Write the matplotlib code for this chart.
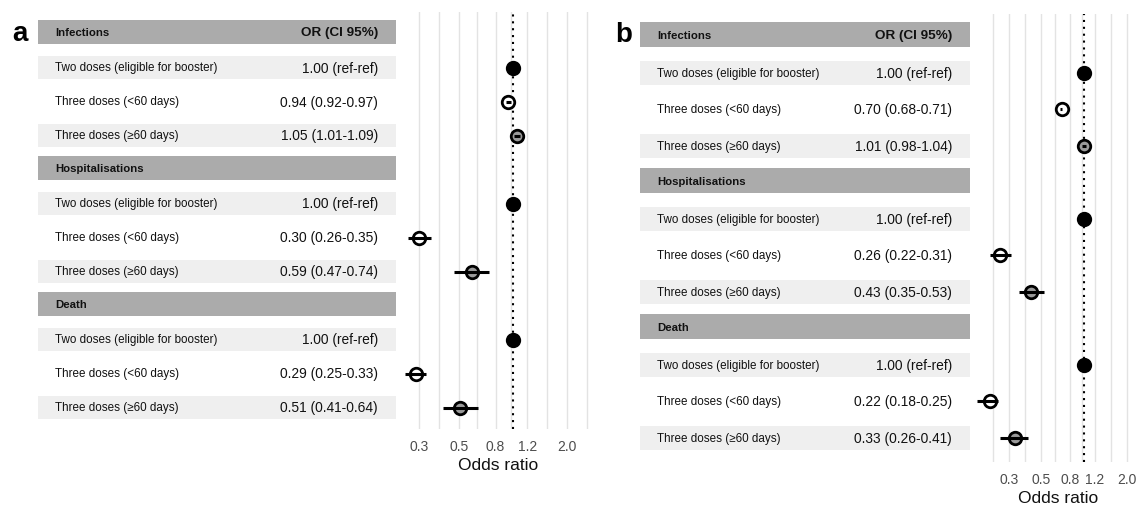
import numpy as np
import matplotlib
matplotlib.use("Agg")
import matplotlib.pyplot as plt

plt.rcParams['font.family'] = ['Liberation Sans', 'DejaVu Sans']

# ---------------- data ----------------
groups = ["Infections", "Hospitalisations", "Death"]
row_labels = ["Two doses (eligible for booster)", "Three doses (<60 days)", "Three doses (\u226560 days)"]

a_or = [1.00, 0.94, 1.05, 1.00, 0.30, 0.59, 1.00, 0.29, 0.51]
a_lo = [1.00, 0.92, 1.01, 1.00, 0.26, 0.47, 1.00, 0.25, 0.41]
a_hi = [1.00, 0.97, 1.09, 1.00, 0.35, 0.74, 1.00, 0.33, 0.64]

b_or = [1.00, 0.70, 1.01, 1.00, 0.26, 0.43, 1.00, 0.22, 0.33]
b_lo = [1.00, 0.68, 0.98, 1.00, 0.22, 0.35, 1.00, 0.18, 0.26]
b_hi = [1.00, 0.71, 1.04, 1.00, 0.31, 0.53, 1.00, 0.25, 0.41]

x_ticks = [0.3, 0.5, 0.8, 1.2, 2.0]
x_tick_labels = ["0.3", "0.5", "0.8", "1.2", "2.0"]
header_right = "OR (CI 95%)"
x_label = "Odds ratio"

# ---------------- styles ----------------
W, H = 1141, 506
fig = plt.figure(figsize=(W / 100, H / 100), dpi=100)

HEADER_C = "#ababab"
LIGHT_C = "#efefef"
GRID_C = "#e3e3e3"
fills = ["black", "white", "#9a9a9a"]


def ax_at(x0, x1, y0, y1):
    return fig.add_axes([x0 / W, 1 - y1 / H, (x1 - x0) / W, (y1 - y0) / H])


def panel(letter, ors, los, his, tab_x, plot_x, y_top, y_bot, row0, row_h,
          x03, px_per_ln, letter_xy):
    ylim = ((y_bot - row0) / row_h, (y_top - row0) / row_h)

    # ---- table ----
    tab = ax_at(tab_x[0], tab_x[1], y_top, y_bot)
    tab.set_xlim(0, tab_x[1] - tab_x[0])
    tab.set_ylim(*ylim)
    tab.axis("off")
    width = tab_x[1] - tab_x[0]
    label_x = 17
    right_x = width - 18
    r = 0
    k = 0
    for g in groups:
        hc = r - 0.05
        tab.add_patch(plt.Rectangle((0, hc - 0.35), width, 0.7, color=HEADER_C, lw=0))
        tab.text(label_x, hc, g, fontsize=8.2, fontweight="bold", va="center", ha="left", color="#111111")
        if g == groups[0]:
            tab.text(right_x, hc, header_right, fontsize=9.7, fontweight="bold", va="center",
                     ha="right", color="#111111")
        r += 1
        for j, lab in enumerate(row_labels):
            if j != 1:
                tab.add_patch(plt.Rectangle((0, r - 0.33), width, 0.66, color=LIGHT_C, lw=0))
            tab.text(label_x, r, lab, fontsize=8.4, va="center", ha="left", color="#111111")
            if j == 0:
                s = f"{ors[k]:.2f} (ref-ref)"
            else:
                s = f"{ors[k]:.2f} ({los[k]:.2f}-{his[k]:.2f})"
            tab.text(right_x, r, s, fontsize=9.9, va="center", ha="right", color="#111111")
            r += 1
            k += 1

    # ---- forest ----
    ax = ax_at(plot_x[0], plot_x[1], y_top, y_bot)
    ax.set_xscale("log")
    xl = (0.3 * np.exp((plot_x[0] - x03) / px_per_ln), 0.3 * np.exp((plot_x[1] - x03) / px_per_ln))
    ax.set_xlim(*xl)
    ax.set_ylim(*ylim)
    lt = np.log(x_ticks)
    d = np.diff(lt)
    ext = np.concatenate([[lt[0] - d[0]], lt, [lt[-1] + d[-1]]])
    minors = np.exp((ext[:-1] + ext[1:]) / 2)
    minors = minors[(minors > xl[0]) & (minors < xl[1])]
    ax.set_xticks(x_ticks)
    ax.set_xticklabels(x_tick_labels)
    ax.set_xticks(minors, minor=True)
    ax.xaxis.set_minor_formatter(matplotlib.ticker.NullFormatter())
    ax.grid(True, which="both", axis="x", color=GRID_C, lw=1.0)
    ax.set_axisbelow(True)
    ax.tick_params(axis="x", which="both", length=0, pad=7, labelsize=10, labelcolor="#4d4d4d")
    ax.set_yticks([])
    for s in ax.spines.values():
        s.set_visible(False)
    ax.set_xlabel(x_label, fontsize=12.5, labelpad=3, color="#111111")
    ax.axvline(1.0, color="black", lw=1.5, ls=(0, (1, 2.3)), zorder=2)

    ys = [gi * 4 + 1 + j for gi in range(3) for j in range(3)]
    for k, (o, lo, hi, y) in enumerate(zip(ors, los, his, ys)):
        j = k % 3
        ax.plot([o], [y], "o", ms=9, mew=2.0, mfc=fills[j], mec="black", zorder=3)
        if j != 0:
            ax.plot([lo, hi], [y, y], color="black", lw=2.2, solid_capstyle="butt", zorder=4)

    fig.text(letter_xy[0] / W, 1 - letter_xy[1] / H, letter, fontsize=20, fontweight="bold",
             ha="center", va="baseline")


panel("a", a_or, a_lo, a_hi, (38, 396), (403, 594), 13, 430, 34.5, 34, 419, 78, (20, 41))
panel("b", b_or, b_lo, b_hi, (640, 970), (975, 1141), 15, 463, 37.5, 36.5, 1009, 62, (624, 42))

fig.savefig("out.png", dpi=100)
